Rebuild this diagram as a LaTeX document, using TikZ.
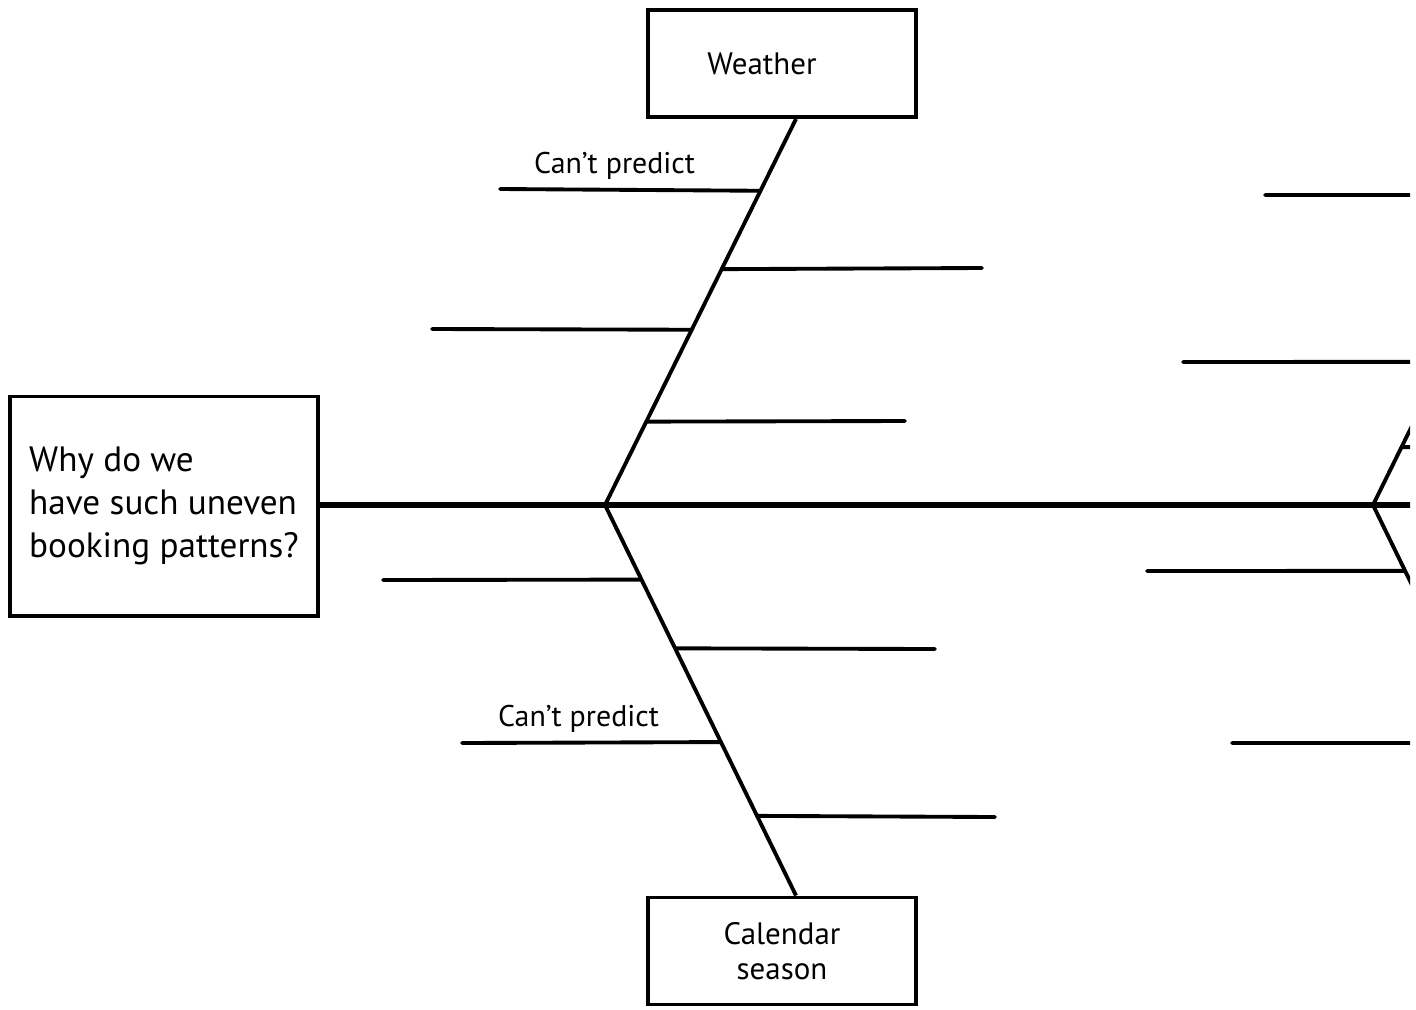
\documentclass[tikz,border=0pt]{standalone}
\usepackage{fontspec}
\setmainfont{PT Sans}
\usetikzlibrary{calc}

\begin{document}
\begin{tikzpicture}[
			x=0.01cm, y=-0.01cm,
			nodes = {
				align = center
			},
			effect/.style={
				draw,
				line width=1.1pt,
				rectangle,
				minimum width=3.08cm,
				minimum height=2.19cm,
				align=left,
				font=\fontsize{10}{12.2}\selectfont
			},
			cause/.style={
				draw,
				line width=1.1pt,
				rectangle,
				minimum width=2.68cm,
				minimum height=1.07cm,
				font=\fontsize{8.8}{10}\selectfont
			},
			spine/.style={
				line width=1.5pt
			},
			bone/.style={
				line width=1.1pt
			},
			rib/.style={
				line width=1.1pt,
				line cap=round
			},
			note/.style={
				above,
				yshift=-1pt,
				font=\fontsize{8.5}{10}\selectfont
			}
		]
			\useasboundingbox (0,0) rectangle (1416,1009);

			\node[effect] (problem) at (164,506) {Why do we\\have such uneven\\booking patterns?};
			\node[cause] (weather) at (782,63.5) {Weather\hspace*{0.4cm}};
			\node[cause] (calendar) at (782,951) {Calendar\\season};

			\coordinate (fork) at (605,505);
			\coordinate (wtop) at ($(weather.south)+(14,0)$);
			\coordinate (cbot) at ($(calendar.north)+(14,0)$);

			\begin{scope}
				\clip (0,0) rectangle (1410,1009);

				\coordinate (fork2) at (1373,505);
				\coordinate (spineend) at (1416,505);
				\coordinate (wtop2) at (1564,117);
				\coordinate (cbot2) at (1564,897);

				\draw[spine] (problem.east |- fork) -- (fork) -- (fork2) -- (spineend);

				\draw[bone] (fork) -- (wtop);
				\draw[bone] (fork) -- (cbot);
				\draw[bone] (fork2) -- (wtop2);
				\draw[bone] (fork2) -- (cbot2);

				% upper bone
				\draw[rib] ($(fork)!0.814!(wtop)$) -- node[note, pos=0.56]{Can’t predict} (500,189);
				\draw[rib] ($(fork)!0.611!(wtop)$) -- (982,268);
				\draw[rib] ($(fork)!0.454!(wtop)$) -- (432,329);
				\draw[rib] ($(fork)!0.216!(wtop)$) -- (905,421);

				% lower bone
				\draw[rib] ($(fork)!0.191!(cbot)$) -- (383,580);
				\draw[rib] ($(fork)!0.367!(cbot)$) -- (935,649);
				\draw[rib] ($(fork)!0.607!(cbot)$) -- node[note, pos=0.55]{Can’t predict} (462,743);
				\draw[rib] ($(fork)!0.796!(cbot)$) -- (995,817);

				% next bones, cut off
				\draw[rib] ($(fork2)!0.799!(wtop2)$) -- (1265,195);
				\draw[rib] ($(fork2)!0.369!(wtop2)$) -- (1183,362);
				\draw[rib] ($(fork2)!0.149!(wtop2)$) -- (1430,447);
				\draw[rib] ($(fork2)!0.168!(cbot2)$) -- (1147,571);
				\draw[rib] ($(fork2)!0.607!(cbot2)$) -- (1232,743);
			\end{scope}

		\end{tikzpicture}
\end{document}
